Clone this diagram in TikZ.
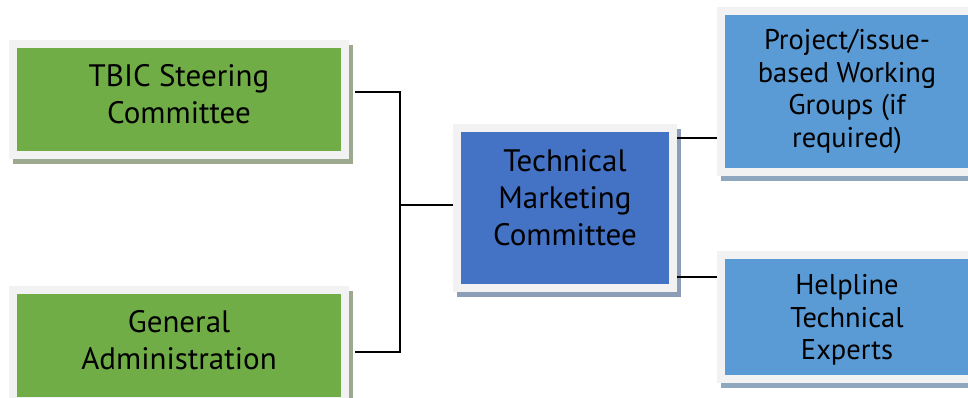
\documentclass[tikz,border=0pt]{standalone}
\usepackage{fontspec}
\setmainfont{PT Sans}
\usetikzlibrary{backgrounds}
\definecolor{boxgreen}{HTML}{70AD47}
\definecolor{boxblue}{HTML}{4472C4}
\definecolor{boxlight}{HTML}{5B9BD5}
\definecolor{boxframe}{HTML}{F2F2F2}
\definecolor{shgreen}{HTML}{9CA88F}
\definecolor{shblue}{HTML}{8D9DB7}
\definecolor{shlight}{HTML}{8EA7BE}
\tikzset{
  unit/.style={draw=boxframe, line width=8pt, align=center, inner sep=0pt,
    font=\fontsize{31}{37}\selectfont},
  leftunit/.style={unit, fill=boxgreen, minimum width=332pt, minimum height=111pt, text depth=12pt},
  rightunit/.style={unit, fill=boxlight, minimum width=252pt, font=\fontsize{28.5}{32.5}\selectfont},
  link/.style={draw=black, line width=1.5pt}
}
\begin{document}
\begin{tikzpicture}[x=1pt,y=-1pt] % TBIC Organigramm
    \useasboundingbox (0,0) rectangle (968,398);
    \node[leftunit] (tbic) at (179,99.5) {TBIC Steering\\Committee};
    \node[leftunit] (admin) at (179,345.5) {General\\Administration};
    \node[unit, fill=boxblue, minimum width=216pt, minimum height=160pt, text depth=20pt] (tmc) at (565,208) {Technical\\Marketing\\Committee};
    \node[rightunit, minimum height=161pt] (pwg) at (847,91.5) {Project/issue-\\based Working\\Groups (if\\required)};
    \node[rightunit, minimum height=124pt, text depth=0pt] (help) at (847,317) {Helpline\\Technical\\Experts};
    \begin{scope}[on background layer]
        \foreach \n/\c in {tbic/shgreen, admin/shgreen, tmc/shblue, pwg/shlight, help/shlight}
            \fill[\c] ([xshift=4pt,yshift=-5pt]\n.south west) rectangle ([xshift=4pt,yshift=-5pt]\n.north east);
    \end{scope}
    \coordinate (jn) at (400,205);
    \draw[link] ([xshift=6pt,yshift=7.5pt]tbic.east) -| (jn) |- ([xshift=6pt,yshift=-6.5pt]admin.east);
    \draw[link] (jn) -- (jn -| tmc.west);
    \draw[link] ([yshift=70pt]tmc.east) -- ([yshift=70pt]tmc.east -| pwg.west);
    \draw[link] ([yshift=-69pt]tmc.east) -- ([yshift=-69pt]tmc.east -| help.west);
\end{tikzpicture}
\end{document}
